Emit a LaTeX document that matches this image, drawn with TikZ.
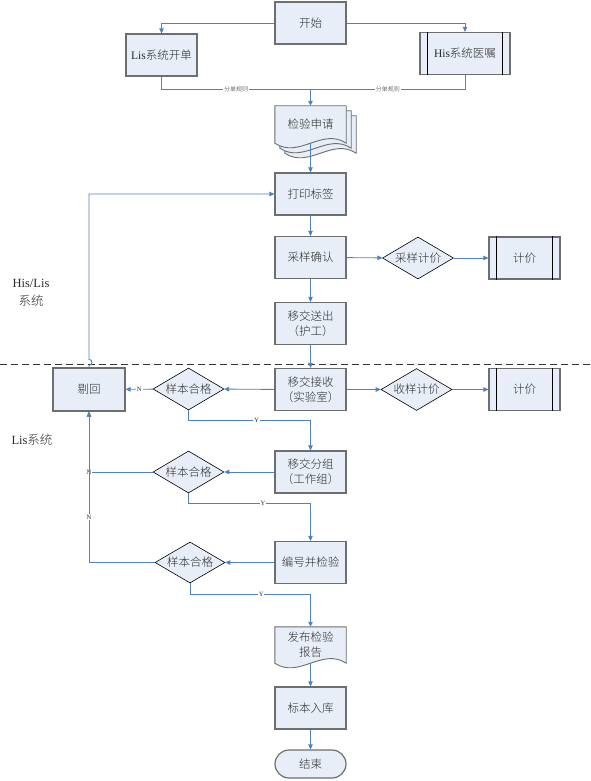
\documentclass[tikz,border=0pt]{standalone}
\usepackage{fontspec}
\setmainfont{Liberation Serif}
\newfontfamily\cjk{Noto Sans CJK SC Light}
\usetikzlibrary{shapes.geometric,arrows.meta,backgrounds}
\definecolor{boxfill}{HTML}{E8EEF7}
\definecolor{boxline}{HTML}{6E6E6E}
\definecolor{flowc}{HTML}{4F81BD}
\definecolor{txt}{HTML}{2A2A2A}
\begin{document}
\begin{tikzpicture}[x=1pt,y=-1pt,
 box/.style={draw=boxline, line width=1.2pt, fill=boxfill, minimum width=71pt, minimum height=42pt, inner sep=0pt, align=center, text=txt, font=\cjk\fontsize{11.5}{15}\selectfont},
 dia/.style={diamond, draw=black, line width=0.6pt, fill=boxfill, minimum width=71pt, minimum height=42pt, inner sep=0pt},
 dlabel/.style={font=\cjk\fontsize{11.5}{14}\selectfont, text=txt, inner sep=0pt},
 doc/.style={minimum width=71pt, inner sep=0pt, align=center, text=txt, font=\cjk\fontsize{11.5}{15}\selectfont},
 docline/.style={draw=boxline, line width=0.9pt, fill=boxfill},
 endst/.style={box, rounded corners=14pt, minimum height=28pt},
 inner/.style={draw=black, line width=0.6pt},
 flow/.style={draw=flowc, line width=0.9pt, -{Triangle[length=5pt,width=4.5pt]}},
 plain/.style={draw=flowc, line width=0.9pt},
 lab/.style={fill=white, inner sep=1pt, text=txt, font=\fontsize{6.5}{7}\selectfont},
 labz/.style={fill=white, inner sep=1pt, text=txt, font=\cjk\fontsize{6}{7}\selectfont}
]
\useasboundingbox (0,0) rectangle (591,781);

% nodes
\node[box] (start) at (310.5,23) {开始};
\node[box] (lis) at (161.5,55) {{\rmfamily Lis}系统开单};
\node[box, minimum width=90pt] (his) at (465,53.5) {{\rmfamily His}系统医嘱};
\draw[inner] ([xshift=8pt]his.north west) -- ([xshift=8pt]his.south west);
\draw[inner] ([xshift=-8pt]his.north east) -- ([xshift=-8pt]his.south east);
\node[doc, minimum height=37pt] (req) at (310.5,124.5) {检验申请};
\node[box] (print) at (310.5,194) {打印标签};
\node[box] (sample) at (310.5,257.5) {采样确认};
\node[dia, label={[dlabel]center:采样计价}] (sc) at (418,258) {};
\node[box] (cost1) at (524.5,258) {计价};
\draw[inner] ([xshift=8pt]cost1.north west) -- ([xshift=8pt]cost1.south west);
\draw[inner] ([xshift=-8pt]cost1.north east) -- ([xshift=-8pt]cost1.south east);
\node[box] (send) at (310.5,323.5) {移交送出\\（护工）};
\node[box] (recv) at (310.5,389.5) {移交接收\\（实验室）};
\node[dia, label={[dlabel]center:收样计价}] (rc) at (416.5,389.5) {};
\node[box] (cost2) at (524.5,389.5) {计价};
\draw[inner] ([xshift=8pt]cost2.north west) -- ([xshift=8pt]cost2.south west);
\draw[inner] ([xshift=-8pt]cost2.north east) -- ([xshift=-8pt]cost2.south east);
\node[box, minimum width=72pt, minimum height=43pt] (reject) at (89,389.5) {剔回};
\node[dia, label={[dlabel]center:样本合格}] (q1) at (188.5,389) {};
\node[box] (group) at (310.5,472) {移交分组\\（工作组）};
\node[dia, label={[dlabel]center:样本合格}] (q2) at (188.5,472) {};
\node[box] (test) at (310.5,562.5) {编号并检验};
\node[dia, minimum width=70pt, minimum height=41pt, label={[dlabel]center:样本合格}] (q3) at (190,562.5) {};
\node[doc, minimum height=36pt] (report) at (310.5,645) {发布检验\\报告};
\node[box] (store) at (310.5,708) {标本入库};
\node[endst] (stop) at (310.5,764) {结束};

\node[font=\fontsize{12.5}{18}\selectfont, align=center, text=txt] (sys1) at (31,293) {His/Lis\\{\cjk 系统}};
\node[font=\fontsize{12.5}{15}\selectfont, text=txt] (sys2) at (32,440) {Lis{\cjk 系统}};

% document shapes
\begin{scope}[on background layer]
\foreach \d in {10,5,0}{
 \draw[docline] ([shift={(\d,\d)}]req.north west) -- ([shift={(\d,\d)}]req.north east) -- ([shift={(\d,\d)}]req.south east) .. controls +(-24,-16) and +(24,16) .. ([shift={(\d,\d)}]req.south west) -- cycle;
}
\draw[docline] (report.north west) -- (report.north east) -- (report.south east) .. controls +(-24,-16) and +(24,16) .. (report.south west) -- cycle;
\end{scope}

% separator
\draw[dash pattern=on 7pt off 4pt, line width=0.9pt, black!80] (0,364) -- (591,364);

% connectors
\coordinate (m) at (310.5,89);
\draw[flow] (start.west) -| (lis.north);
\draw[flow] (start.east) -| (his.north);
\draw[plain] (lis.south) |- (m) node[labz, pos=0.75] {分单规则};
\draw[plain] (his.south) |- (m) node[labz, pos=0.75] {分单规则};
\draw[flow] (m) -- (req.north);
\draw[flow] (req.south) -- (print.north);
\draw[flow] (print) -- (sample);
\draw[flow] (sample) -- (sc);
\draw[flow] (sc) -- (cost1);
\draw[flow] (sample) -- (send);
\draw[flow] (send) -- (recv);
\draw[flow] (recv) -- (rc);
\draw[flow] (rc) -- (cost2);
\draw[flow] (recv) -- (q1);
\draw[flow] (q1) -- (reject) node[lab, midway] {N};
\draw[flow] (q1.south) -- ++(0,10.5) -| (group.north) node[lab, pos=0.28] {Y};
\draw[flow] (group) -- (q2);
\draw[flow] (q2.west) -| (reject.south) node[lab, pos=0.5] {N};
\draw[flow] (q2.south) -- ++(0,10.5) -| (test.north) node[lab, pos=0.305] {Y};
\draw[flow] (test) -- (q3);
\draw[flow] (q3.west) -| (reject.south) node[lab, pos=0.65] {N};
\draw[flow] (q3.south) -- ++(0,11) -| (report.north) node[lab, pos=0.295] {Y};
\draw[flow] (report.south) -- (store.north);
\draw[flow] (store) -- (stop);
\draw[flow] (reject.north) -- ++(0,-2) arc[start angle=-90, end angle=90, radius=3pt] |- (print.west);
\end{tikzpicture}
\end{document}
